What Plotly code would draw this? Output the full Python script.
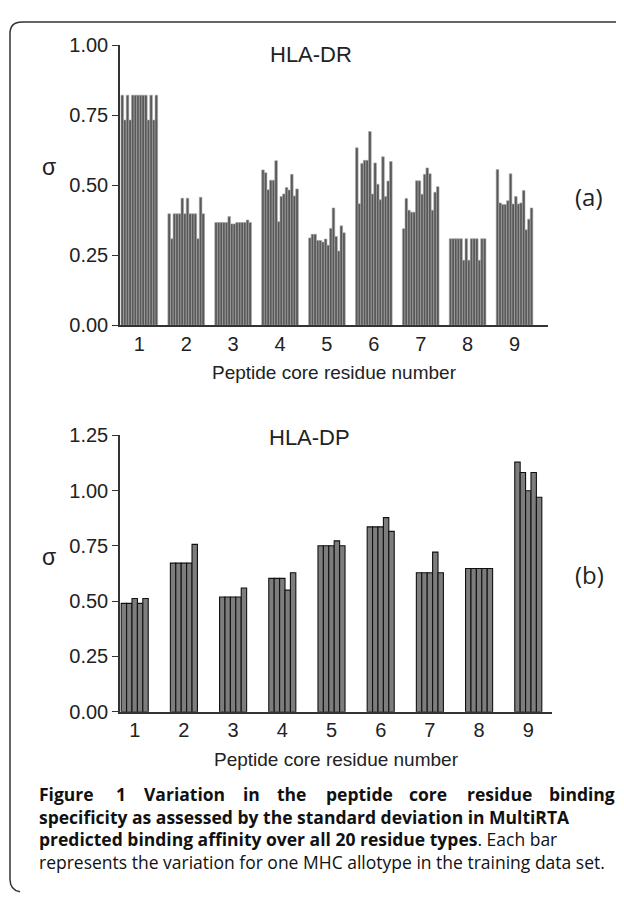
import plotly.graph_objects as go

# browser window is 624x904; the page body has an 8px margin, so the figure
# is made 16px smaller and all layout positions below are given in window pixels
SCREEN_W, SCREEN_H = 624, 904
BODY_MARGIN = 8
W, H = SCREEN_W - 2 * BODY_MARGIN, SCREEN_H - 2 * BODY_MARGIN

residues = [1, 2, 3, 4, 5, 6, 7, 8, 9]
residue_labels = ["1", "2", "3", "4", "5", "6", "7", "8", "9"]

# HLA-DR: sigma per peptide core position, 14 allotypes each
dr_pos1 = [0.822, 0.733, 0.822, 0.733, 0.822, 0.822, 0.822, 0.822, 0.822, 0.822, 0.733, 0.822, 0.733, 0.822]
dr_pos2 = [0.398, 0.309, 0.398, 0.398, 0.398, 0.454, 0.398, 0.454, 0.398, 0.398, 0.398, 0.309, 0.457, 0.398]
dr_pos3 = [0.367, 0.367, 0.367, 0.367, 0.367, 0.388, 0.362, 0.362, 0.367, 0.367, 0.367, 0.367, 0.376, 0.367]
dr_pos4 = [0.555, 0.545, 0.484, 0.518, 0.518, 0.588, 0.370, 0.460, 0.469, 0.492, 0.483, 0.539, 0.462, 0.487]
dr_pos5 = [0.312, 0.325, 0.325, 0.303, 0.303, 0.297, 0.308, 0.286, 0.346, 0.419, 0.317, 0.265, 0.355, 0.330]
dr_pos6 = [0.634, 0.434, 0.578, 0.589, 0.589, 0.692, 0.469, 0.580, 0.504, 0.448, 0.602, 0.460, 0.515, 0.585]
dr_pos7 = [0.345, 0.453, 0.411, 0.404, 0.404, 0.516, 0.516, 0.468, 0.539, 0.562, 0.541, 0.411, 0.475, 0.495]
dr_pos8 = [0.309, 0.309, 0.309, 0.309, 0.309, 0.232, 0.309, 0.232, 0.309, 0.309, 0.309, 0.232, 0.309, 0.309]
dr_pos9 = [0.556, 0.437, 0.431, 0.431, 0.445, 0.541, 0.433, 0.460, 0.433, 0.437, 0.481, 0.341, 0.379, 0.419]

# HLA-DP: sigma per peptide core position, 5 allotypes each
dp_pos1 = [0.490, 0.490, 0.512, 0.490, 0.512]
dp_pos2 = [0.672, 0.672, 0.672, 0.672, 0.757]
dp_pos3 = [0.519, 0.519, 0.519, 0.519, 0.560]
dp_pos4 = [0.603, 0.603, 0.603, 0.550, 0.629]
dp_pos5 = [0.751, 0.751, 0.751, 0.773, 0.751]
dp_pos6 = [0.836, 0.836, 0.836, 0.878, 0.816]
dp_pos7 = [0.629, 0.629, 0.629, 0.722, 0.629]
dp_pos8 = [0.648, 0.648, 0.648, 0.648, 0.648]
dp_pos9 = [1.129, 1.082, 1.000, 1.082, 0.970]

dr_ticks = [0.0, 0.25, 0.5, 0.75, 1.0]
dp_ticks = [0.0, 0.25, 0.5, 0.75, 1.0, 1.25]

dr_groups = [dr_pos1, dr_pos2, dr_pos3, dr_pos4, dr_pos5, dr_pos6, dr_pos7, dr_pos8, dr_pos9]
dp_groups = [dp_pos1, dp_pos2, dp_pos3, dp_pos4, dp_pos5, dp_pos6, dp_pos7, dp_pos8, dp_pos9]


def px(x):
    return (x - BODY_MARGIN) / W


def py(y):
    return 1 - (y - BODY_MARGIN) / H


fig = go.Figure()

DR_GROUP = 0.782
n_dr = len(dr_pos1)
for i in range(n_dr):
    fig.add_trace(go.Bar(
        x=residues, y=[g[i] for g in dr_groups],
        width=DR_GROUP / n_dr, offset=-DR_GROUP / 2 + i * DR_GROUP / n_dr,
        marker=dict(color="#585858", line=dict(color="#a8a8a8", width=0.6)),
        xaxis="x", yaxis="y", showlegend=False, hoverinfo="y"))

DP_GROUP = 0.55
n_dp = len(dp_pos1)
for i in range(n_dp):
    fig.add_trace(go.Bar(
        x=residues, y=[g[i] for g in dp_groups],
        width=DP_GROUP / n_dp, offset=-DP_GROUP / 2 + i * DP_GROUP / n_dp,
        marker=dict(color="#7d7d7d", line=dict(color="#111111", width=1.1)),
        xaxis="x2", yaxis="y2", showlegend=False, hoverinfo="y"))

ARIAL = "Liberation Sans, Arial, sans-serif"
tickfont = dict(family=ARIAL, size=20, color="#222222")
axis_common = dict(showline=True, linecolor="#333333", linewidth=1.5, showgrid=False,
                   zeroline=False, tickfont=tickfont)
xtitle_font = dict(family=ARIAL, size=19, color="#222222")

fig.update_layout(
    width=W, height=H, margin=dict(l=0, r=0, t=0, b=0),
    paper_bgcolor="white", plot_bgcolor="white",
    barmode="overlay",
    xaxis=dict(domain=[px(120), px(548)], range=[0.588, 9.714], anchor="y",
               tickmode="array", tickvals=residues, ticktext=residue_labels,
               ticks="", title=dict(text="Peptide core residue number", standoff=12, font=xtitle_font),
               **axis_common),
    yaxis=dict(domain=[py(322), py(35)], range=[0, 1.0], anchor="x",
               tickmode="array", tickvals=dr_ticks, ticktext=[f"{v:.2f}" for v in dr_ticks],
               ticks="outside", ticklen=6, tickcolor="#333333", tickwidth=1.3,
               **axis_common),
    xaxis2=dict(domain=[px(120), px(552)], range=[0.701, 9.482], anchor="y2",
                tickmode="array", tickvals=residues, ticktext=residue_labels,
                ticks="", title=dict(text="Peptide core residue number", standoff=12, font=xtitle_font),
                **axis_common),
    yaxis2=dict(domain=[py(718.3), py(435)], range=[0, 1.25], anchor="x2",
                tickmode="array", tickvals=dp_ticks, ticktext=[f"{v:.2f}" for v in dp_ticks],
                ticks="outside", ticklen=6, tickcolor="#333333", tickwidth=1.3,
                **axis_common),
)

ann = []
label_font = dict(family=ARIAL, size=22, color="#222222")
ann.append(dict(text="HLA-DR", x=px(311), y=py(44), xref="paper", yref="paper",
                showarrow=False, font=label_font, xanchor="center", yanchor="middle"))
ann.append(dict(text="HLA-DP", x=px(309), y=py(437), xref="paper", yref="paper",
                showarrow=False, font=label_font, xanchor="center", yanchor="middle"))
sig_font = dict(family=ARIAL, size=23, color="#222222")
ann.append(dict(text="σ", x=px(49), y=py(160), xref="paper", yref="paper",
                showarrow=False, font=sig_font, xanchor="center", yanchor="middle"))
ann.append(dict(text="σ", x=px(49), y=py(560), xref="paper", yref="paper",
                showarrow=False, font=sig_font, xanchor="center", yanchor="middle"))
pan_font = dict(family="Open Sans, sans-serif", size=24, color="#222222")
ann.append(dict(text="(a)", x=px(589), y=py(190), xref="paper", yref="paper",
                showarrow=False, font=pan_font, xanchor="center", yanchor="middle"))
ann.append(dict(text="(b)", x=px(589), y=py(578), xref="paper", yref="paper",
                showarrow=False, font=pan_font, xanchor="center", yanchor="middle"))

cap_font = dict(family="Open Sans, sans-serif", size=17.5, color="#111111")
# first caption line is justified: place each word (last one anchored on the right edge)
line1_words = ["Figure", "1", "Variation", "in", "the", "peptide", "core", "residue", "binding"]
line1_x = [37, 113.5, 141.5, 240.7, 275.0, 323.6, 407.4, 465.3, 617]
for k, (w, xw) in enumerate(zip(line1_words, line1_x)):
    ann.append(dict(text=f"<b>{w}</b>", x=px(xw), y=py(803), xref="paper", yref="paper",
                    showarrow=False, font=cap_font,
                    xanchor="right" if k == len(line1_words) - 1 else "left", yanchor="middle"))
ann.append(dict(text="<b>specificity as assessed by the standard deviation in MultiRTA</b>",
                x=px(37), y=py(826), xref="paper", yref="paper", showarrow=False,
                font=cap_font, xanchor="left", yanchor="middle"))
ann.append(dict(text="<b>predicted binding affinity over all 20 residue types</b>. Each bar",
                x=px(37), y=py(849), xref="paper", yref="paper", showarrow=False,
                font=cap_font, xanchor="left", yanchor="middle"))
ann.append(dict(text="represents the variation for one MHC allotype in the training data set.",
                x=px(37), y=py(872), xref="paper", yref="paper", showarrow=False,
                font=cap_font, xanchor="left", yanchor="middle"))
fig.update_layout(annotations=ann)

# rounded frame (top and left sides)
pts = f"M {px(624)},{py(11)} L {px(22)},{py(11)} Q {px(10)},{py(11)} {px(10)},{py(23)} " \
      f"L {px(10)},{py(890)} Q {px(10)},{py(901)} {px(20)},{py(903)}"
fig.add_shape(type="path", path=pts, xref="paper", yref="paper",
              line=dict(color="#333333", width=1.5))

fig.write_html("out.html")
